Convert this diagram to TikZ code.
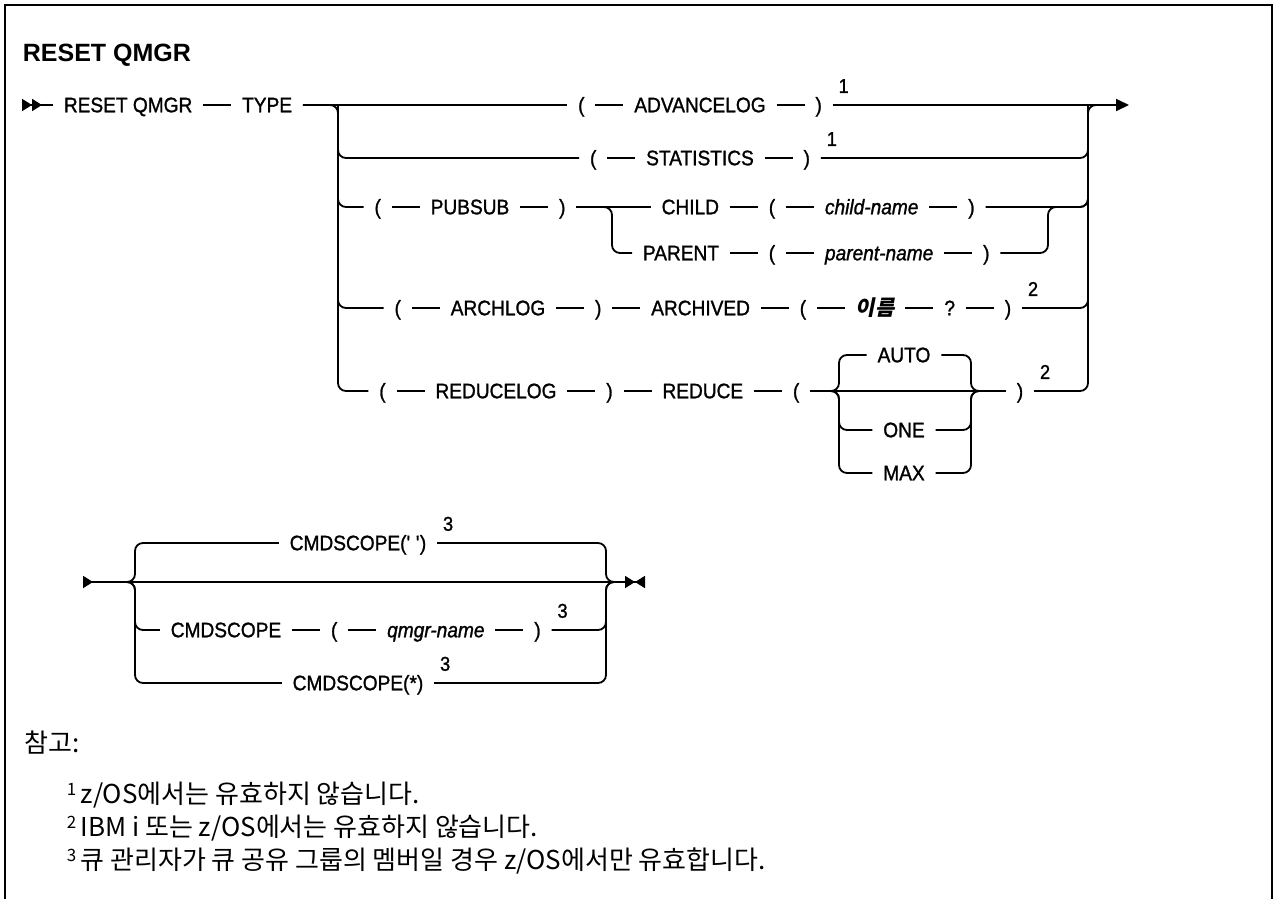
\documentclass[tikz,border=0pt]{standalone}
\usepackage{fontspec}
\setmainfont{Liberation Sans}
\newfontfamily\railfont[FakeStretch=0.91, FakeBold=1.2]{Liberation Sans}
\newfontfamily\korfont{Noto Sans CJK KR}
\newfontfamily\korslant[FakeSlant=0.2]{Noto Sans CJK KR}
\usetikzlibrary{arrows.meta, positioning}

\begin{document}
\begin{tikzpicture}[x=1pt, y=-1pt, node distance=28pt, line width=1.8pt,
  >={Triangle[length=13pt, width=12pt]},
  kw/.style={inner xsep=10pt, inner ysep=0pt, text height=14.5pt, text depth=0pt,
    font=\railfont\fontsize{21}{25}\selectfont},
  var/.style={kw, font=\railfont\itshape\fontsize{21}{25}\selectfont},
  fn/.style={anchor=south west, inner sep=0pt, xshift=5pt, yshift=3pt,
    font=\railfont\fontsize{20}{22}\selectfont},
  rail/.style={rounded corners=8pt},
  txt/.style={anchor=base west, inner sep=0pt, font=\korfont\fontsize{26}{30}\selectfont}]
\useasboundingbox (0,0) rectangle (1274,899);
\draw[line width=2.7pt] (5,899) -- (5,5) -- (1272,5) -- (1272,899);

% title and first line
\node[anchor=west, inner sep=0pt, font=\bfseries\fontsize{25}{30}\selectfont] (title) at (22,55) {RESET QMGR};
\coordinate (start) at (22,105);
\node[kw, anchor=west] (cmd) at (53,105) {RESET QMGR};
\node[kw, right=of cmd] (type) {TYPE};
\coordinate (split) at (338,105);
\coordinate (join) at (1088,105);
\coordinate (exit) at (1100,105);
\coordinate (finish) at (1129,105);

\node[kw] (adv) at (700,105) {ADVANCELOG};
\node[kw, left=of adv] (advL) {(};
\node[kw, right=of adv] (advR) {)};
\node[fn] (advN) at (advR.north east) {1};

\node[kw] (stat) at (700,158) {STATISTICS};
\node[kw, left=of stat] (statL) {(};
\node[kw, right=of stat] (statR) {)};
\node[fn] (statN) at (statR.north east) {1};

\node[kw] (pub) at (470,207) {PUBSUB};
\node[kw, left=of pub] (pubL) {(};
\node[kw, right=of pub] (pubR) {)};
\coordinate (fork) at (612,207);
\node[kw] (chL) at (772,207) {(};
\node[kw, left=of chL] (child) {CHILD};
\node[var, right=of chL] (chName) {child-name};
\node[kw, right=of chName] (chR) {)};
\node[kw] (paL) at (772,253) {(};
\node[kw, left=of paL] (parent) {PARENT};
\node[var, right=of paL] (paName) {parent-name};
\node[kw, right=of paName] (paR) {)};
\coordinate (merge) at (1048,207);

\node[kw] (arch) at (498,308) {ARCHLOG};
\node[kw, left=of arch] (archL) {(};
\node[kw, right=of arch] (archR) {)};
\node[kw, right=of archR] (archived) {ARCHIVED};
\node[kw, right=of archived] (arvL) {(};
\node[kw, right=of arvL, font=\korslant\bfseries\fontsize{21}{25}\selectfont] (name) {이름};
\node[kw, right=of name] (quest) {?};
\node[kw, right=of quest] (arvR) {)};
\node[fn] (arvN) at (arvR.north east) {2};

\node[kw] (rlog) at (496,391) {REDUCELOG};
\node[kw, left=of rlog] (rlogL) {(};
\node[kw, right=of rlog] (rlogR) {)};
\node[kw, right=of rlogR] (reduce) {REDUCE};
\node[kw, right=of reduce] (redL) {(};
\coordinate (rfork) at (839,391);
\node[kw] (auto) at (904,355) {AUTO};
\node[kw] (one) at (904,430) {ONE};
\node[kw] (max) at (904,473) {MAX};
\coordinate (rmerge) at (971,391);
\node[kw] (redR) at (1020,391) {)};
\node[fn] (redN) at (redR.north east) {2};

\draw[{Triangle[reversed, length=10pt, width=12pt] Triangle[reversed, length=10pt, width=12pt]}-] (start) -- (cmd);
\draw (cmd) -- (type);
\draw (type) -- (advL);
\draw (advL) -- (adv) -- (advR);
\draw[->] (advR) -- (finish);
\draw[rail] (type) -- (split) |- (rlogL);
\draw[rail] (split) |- (statL);
\draw[rail] (split) |- (pubL);
\draw[rail] (split) |- (archL);
\draw (statL) -- (stat) -- (statR);
\draw[rail] (statR) -| (join);
\draw (pubL) -- (pub) -- (pubR) -- (child);
\draw[rail] (pubR) -- (fork) |- (parent);
\draw (child) -- (chL) -- (chName) -- (chR);
\draw (parent) -- (paL) -- (paName) -- (paR);
\draw[rail] (paR) -| (merge) -| (join);
\draw[rail] (chR) -| (join);
\draw (archL) -- (arch) -- (archR) -- (archived) -- (arvL) -- (name) -- (quest) -- (arvR);
\draw[rail] (arvR) -| (join);
\draw (rlogL) -- (rlog) -- (rlogR) -- (reduce) -- (redL) -- (redR);
\draw[rail] (redL) -- (rfork) |- (auto);
\draw[rail] (redL) -- (rfork) |- (one);
\draw[rail] (redL) -- (rfork) |- (max);
\draw[rail] (auto) -| (rmerge) -- (redR);
\draw[rail] (one) -| (rmerge) -- (redR);
\draw[rail] (max) -| (rmerge) -- (redR);
\draw[rail] (redR) -| (join) -- (exit);

% second line
\coordinate (start2) at (83,582);
\coordinate (bfork) at (135,582);
\coordinate (bmerge) at (606,582);
\coordinate (bexit) at (618,582);
\coordinate (stop) at (645,582);
\node[kw] (scope1) at (358,543) {CMDSCOPE(\textquotesingle\ \textquotesingle)};
\node[fn] (scope1N) at (scope1.north east) {3};
\node[kw] (scope2) at (226,630) {CMDSCOPE};
\node[kw, right=of scope2] (scopeL) {(};
\node[var, right=of scopeL] (qmgr) {qmgr-name};
\node[kw, right=of qmgr] (scopeR) {)};
\node[fn] (scope2N) at (scopeR.north east) {3};
\node[kw] (scope3) at (358,683) {CMDSCOPE(*)};
\node[fn] (scope3N) at (scope3.north east) {3};

\draw[{Triangle[reversed, length=10pt, width=12pt]}-{Triangle[length=10pt, width=12pt] Triangle[reversed, length=10pt, width=12pt]}] (start2) -- (stop);
\draw[rail] (start2) -- (bfork) |- (scope1);
\draw[rail] (start2) -- (bfork) |- (scope2);
\draw[rail] (start2) -- (bfork) |- (scope3);
\draw (scope2) -- (scopeL) -- (qmgr) -- (scopeR);
\draw[rail] (scope1) -| (bmerge) -- (bexit);
\draw[rail] (scopeR) -| (bmerge) -- (bexit);
\draw[rail] (scope3) -| (bmerge) -- (bexit);

% notes
\node[txt] (notes) at (24,752) {참고:};
\node[txt] (note1) at (66,803) {\raisebox{8pt}{\fontsize{17}{17}\selectfont 1}\,z/OS에서는 유효하지 않습니다.};
\node[txt] (note2) at (66,836) {\raisebox{8pt}{\fontsize{17}{17}\selectfont 2}\,IBM i 또는 z/OS에서는 유효하지 않습니다.};
\node[txt] (note3) at (66,869) {\raisebox{8pt}{\fontsize{17}{17}\selectfont 3}\,큐 관리자가 큐 공유 그룹의 멤버일 경우 z/OS에서만 유효합니다.};
\end{tikzpicture}
\end{document}
